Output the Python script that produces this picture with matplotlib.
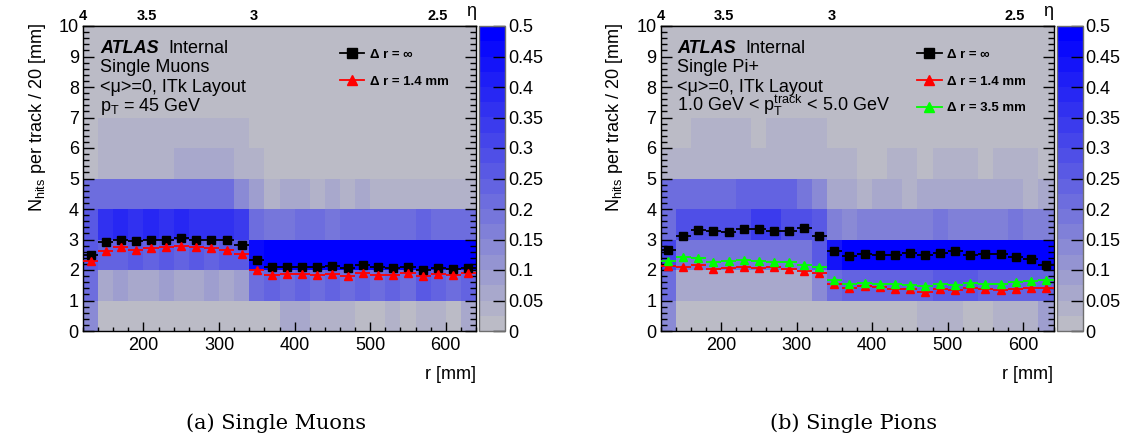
import numpy as np
import matplotlib
matplotlib.use("Agg")
import matplotlib.pyplot as plt
from matplotlib.colors import ListedColormap, BoundaryNorm
from matplotlib.lines import Line2D
from matplotlib.ticker import MultipleLocator, FixedLocator, FuncFormatter

plt.rcParams["font.family"] = ["Liberation Sans", "DejaVu Sans"]
plt.rcParams["mathtext.fontset"] = "custom"
plt.rcParams["mathtext.rm"] = "Liberation Sans"
plt.rcParams["mathtext.it"] = "Liberation Sans:italic"
plt.rcParams["mathtext.bf"] = "Liberation Sans:bold"

# ---------------- binning ----------------
r_edges = np.arange(120, 641, 20)          # 20 mm radial bins
hit_edges = np.arange(0, 11, 1)            # hits per track
r_centers = 0.5 * (r_edges[:-1] + r_edges[1:])

# ---------------- single muons ----------------
# fraction of tracks per (r, N_hits) cell, rows = N_hits 0-1, 1-2, ...
muon_map = [
    [0.13, 0.01, 0.01, 0.01, 0.01, 0.01, 0.01, 0.01, 0.01, 0.01, 0.01, 0.01, 0.01,
     0.05, 0.05, 0.03, 0.03, 0.03, 0.01, 0.01, 0.04, 0.01, 0.04, 0.04, 0.01, 0.05],
    [0.21, 0.07, 0.08, 0.07, 0.06, 0.08, 0.07, 0.07, 0.08, 0.07, 0.09, 0.22, 0.23,
     0.22, 0.23, 0.22, 0.23, 0.22, 0.23, 0.22, 0.23, 0.22, 0.27, 0.23, 0.22, 0.23],
    [0.26, 0.24, 0.23, 0.25, 0.24, 0.25, 0.24, 0.25, 0.24, 0.25, 0.26, 0.46, 0.50,
     0.50, 0.50, 0.50, 0.50, 0.50, 0.50, 0.50, 0.50, 0.50, 0.50, 0.50, 0.50, 0.50],
    [0.25, 0.37, 0.38, 0.37, 0.38, 0.37, 0.38, 0.37, 0.36, 0.37, 0.33, 0.22, 0.18,
     0.19, 0.20, 0.20, 0.19, 0.20, 0.21, 0.20, 0.20, 0.21, 0.24, 0.22, 0.20, 0.21],
    [0.22, 0.22, 0.22, 0.22, 0.22, 0.22, 0.22, 0.22, 0.22, 0.22, 0.14, 0.08, 0.03,
     0.06, 0.06, 0.03, 0.06, 0.04, 0.06, 0.03, 0.03, 0.03, 0.03, 0.03, 0.03, 0.03],
    [0.00, 0.03, 0.03, 0.03, 0.03, 0.03, 0.06, 0.06, 0.06, 0.06, 0.03, 0.03, 0.00,
     0.00, 0.00, 0.00, 0.00, 0.00, 0.00, 0.00, 0.00, 0.00, 0.00, 0.00, 0.00, 0.00],
    [0.00, 0.03, 0.03, 0.03, 0.03, 0.03, 0.03, 0.03, 0.03, 0.03, 0.03, 0.00, 0.00,
     0.00, 0.00, 0.00, 0.00, 0.00, 0.00, 0.00, 0.00, 0.00, 0.00, 0.00, 0.00, 0.00],
    [0.0] * 26,
    [0.0] * 26,
    [0.0] * 26,
]
muon_dr_inf = [2.49, 2.92, 2.98, 2.94, 2.98, 2.98, 3.05, 2.98, 2.98, 2.98, 2.81, 2.33, 2.09,
               2.09, 2.09, 2.09, 2.13, 2.07, 2.16, 2.09, 2.07, 2.09, 2.00, 2.07, 2.03, 2.07]
muon_dr_14 = [2.29, 2.63, 2.75, 2.67, 2.73, 2.75, 2.79, 2.74, 2.72, 2.67, 2.52, 2.00, 1.82,
              1.87, 1.87, 1.82, 1.87, 1.79, 1.90, 1.84, 1.84, 1.89, 1.79, 1.87, 1.84, 1.89]

# ---------------- single pions ----------------
pion_map = [
    [0.14, 0.01, 0.01, 0.01, 0.01, 0.01, 0.01, 0.01, 0.01, 0.01, 0.01, 0.01, 0.01,
     0.01, 0.01, 0.01, 0.01, 0.03, 0.03, 0.03, 0.01, 0.01, 0.04, 0.04, 0.04, 0.09],
    [0.22, 0.07, 0.06, 0.07, 0.07, 0.06, 0.07, 0.07, 0.06, 0.07, 0.13, 0.20, 0.24,
     0.24, 0.23, 0.24, 0.24, 0.23, 0.25, 0.25, 0.25, 0.24, 0.24, 0.24, 0.23, 0.24],
    [0.31, 0.19, 0.18, 0.19, 0.19, 0.18, 0.19, 0.19, 0.18, 0.19, 0.26, 0.44, 0.49,
     0.49, 0.49, 0.49, 0.49, 0.48, 0.48, 0.49, 0.49, 0.49, 0.49, 0.49, 0.49, 0.49],
    [0.22, 0.29, 0.29, 0.29, 0.29, 0.29, 0.33, 0.33, 0.30, 0.30, 0.26, 0.16, 0.15,
     0.16, 0.16, 0.17, 0.16, 0.16, 0.18, 0.17, 0.16, 0.17, 0.16, 0.18, 0.17, 0.16],
    [0.21, 0.21, 0.21, 0.21, 0.21, 0.24, 0.24, 0.24, 0.24, 0.18, 0.14, 0.05, 0.05,
     0.03, 0.06, 0.06, 0.03, 0.06, 0.06, 0.06, 0.06, 0.06, 0.06, 0.06, 0.03, 0.05],
    [0.03, 0.03, 0.03, 0.03, 0.03, 0.03, 0.03, 0.03, 0.03, 0.03, 0.03, 0.03, 0.03,
     0.00, 0.00, 0.03, 0.03, 0.00, 0.03, 0.03, 0.03, 0.00, 0.03, 0.03, 0.03, 0.00],
    [0.00, 0.00, 0.03, 0.03, 0.03, 0.03, 0.00, 0.03, 0.03, 0.03, 0.03, 0.00, 0.00,
     0.00, 0.00, 0.00, 0.00, 0.00, 0.00, 0.00, 0.00, 0.00, 0.00, 0.00, 0.00, 0.00],
    [0.0] * 26,
    [0.0] * 26,
    [0.0] * 26,
]
pion_dr_inf = [2.65, 3.12, 3.32, 3.28, 3.24, 3.35, 3.36, 3.28, 3.28, 3.38, 3.12, 2.63, 2.46,
               2.54, 2.50, 2.50, 2.56, 2.50, 2.56, 2.61, 2.50, 2.54, 2.54, 2.43, 2.36, 2.17]
pion_dr_14 = [2.13, 2.11, 2.15, 2.02, 2.07, 2.10, 2.07, 2.09, 2.03, 1.96, 1.91, 1.53, 1.42,
              1.48, 1.44, 1.37, 1.38, 1.29, 1.38, 1.33, 1.41, 1.38, 1.35, 1.37, 1.42, 1.42]
pion_dr_35 = [2.28, 2.41, 2.39, 2.26, 2.28, 2.34, 2.30, 2.26, 2.26, 2.17, 2.11, 1.66, 1.55,
              1.59, 1.55, 1.53, 1.52, 1.47, 1.54, 1.52, 1.58, 1.55, 1.53, 1.60, 1.63, 1.66]

colorbar_ticks = [0, 0.05, 0.1, 0.15, 0.2, 0.25, 0.3, 0.35, 0.4, 0.45, 0.5]
eta_major = [4, 3.5, 3, 2.5]
eta_minor = [3.9, 3.8, 3.7, 3.6, 3.4, 3.3, 3.2, 3.1, 2.9, 2.8, 2.7, 2.6]

# gray -> blue stepped palette, 20 levels
base = np.array([0.735, 0.735, 0.775])
top = np.array([0.0, 0.0, 1.0])
levels = np.linspace(0, 0.5, 21)
palette = ListedColormap([base + (top - base) * k / 19 for k in range(20)])
norm = BoundaryNorm(levels, palette.N, clip=True)

# radial position <-> pseudorapidity along the layer
ETA_A, ETA_B = 9.03, 1.0606


def r_to_eta(r):
    r = np.clip(np.asarray(r, dtype=float), 1e-3, None)
    return (ETA_A - np.log(r)) / ETA_B


def eta_to_r(eta):
    return np.exp(ETA_A - ETA_B * np.asarray(eta, dtype=float))


FIG_W, FIG_H = 1129, 441
fig = plt.figure(figsize=(FIG_W / 100, FIG_H / 100), dpi=100)

TICK_FS = 13
LEG_FS = 9.5


def panel(x0, hist, series, lines, caption):
    ax = fig.add_axes([x0 / FIG_W, 1 - 331 / FIG_H, 393 / FIG_W, 305 / FIG_H])
    cax = fig.add_axes([(x0 + 396) / FIG_W, 1 - 331 / FIG_H, 26 / FIG_W, 305 / FIG_H])

    mesh = ax.pcolormesh(r_edges, hit_edges, np.array(hist), cmap=palette, norm=norm,
                         shading="flat", zorder=1)

    handles = []
    for values, color, marker, ls, label in series:
        eb = ax.errorbar(r_centers, values, xerr=10, fmt=marker, color=color, ms=5.5,
                         mec=color, mfc=color, elinewidth=1.3, capsize=0, zorder=5)
        eb[2][0].set_linestyle(ls)
        handles.append(Line2D([], [], color=color, marker=marker, ms=6.5, lw=1.3,
                              label=label))

    ax.set_xlim(120, 640)
    ax.set_ylim(0, 10)
    ax.xaxis.set_major_locator(MultipleLocator(100))
    ax.xaxis.set_minor_locator(MultipleLocator(20))
    ax.yaxis.set_major_locator(MultipleLocator(1))
    ax.yaxis.set_minor_locator(MultipleLocator(0.2))
    ax.tick_params(which="both", direction="in", top=False, right=True,
                   labelsize=TICK_FS, width=1)
    ax.tick_params(axis="y", which="major", length=8, pad=3)
    ax.tick_params(axis="y", which="minor", length=4.5)
    ax.tick_params(axis="x", which="major", length=6.5, pad=4)
    ax.tick_params(axis="x", which="minor", length=3)
    for s in ax.spines.values():
        s.set_linewidth(1.0)

    ax.set_xlabel("r [mm]", fontsize=13, loc="right")
    ax.xaxis.set_label_coords(1.0, -0.115)
    ax.set_ylabel(r"N$_{\mathrm{hits}}$ per track / 20 [mm]", fontsize=13, loc="top")
    ax.yaxis.set_label_coords(-0.09, 1.01)

    sec = ax.secondary_xaxis("top", functions=(r_to_eta, eta_to_r))
    sec.xaxis.set_major_locator(FixedLocator(eta_major))
    sec.xaxis.set_minor_locator(FixedLocator(eta_minor))
    sec.xaxis.set_major_formatter(FuncFormatter(lambda v, p: f"{v:g}"))
    sec.tick_params(which="both", direction="in", labelsize=10.5, pad=2)
    sec.tick_params(which="major", length=6)
    sec.tick_params(which="minor", length=3)
    sec.spines["top"].set_linewidth(1.0)
    for t in sec.xaxis.get_ticklabels():
        t.set_fontweight("bold")
    ax.text(0.987, 1.046, "η", transform=ax.transAxes, fontsize=13,
            ha="center", va="center")

    ax.text(0.043, 0.910, "ATLAS", transform=ax.transAxes, fontsize=13,
            fontweight="bold", fontstyle="italic", va="baseline")
    ax.text(0.216, 0.910, "Internal", transform=ax.transAxes, fontsize=13,
            va="baseline")
    for y, s in zip([0.850, 0.785, 0.720], lines):
        ax.text(0.043, y, s, transform=ax.transAxes, fontsize=13, va="baseline")

    ax.legend(handles=handles, loc="upper left", bbox_to_anchor=(0.653, 0.926),
              frameon=False, borderpad=0, borderaxespad=0, handlelength=1.85,
              handletextpad=0.45, labelspacing=1.1,
              prop={"size": LEG_FS, "weight": "bold"})

    cb = fig.colorbar(mesh, cax=cax, ticks=colorbar_ticks,
                      format=FuncFormatter(lambda v, p: f"{v:g}"))
    cb.outline.set_edgecolor("#6e6e6e")
    cb.outline.set_linewidth(1.0)
    cb.ax.tick_params(direction="in", length=9, width=1, labelsize=TICK_FS, pad=2,
                      color="black")
    cb.ax.minorticks_off()

    fig.text((x0 + 193) / FIG_W, 1 - 423 / FIG_H, caption, fontsize=15,
             family="DejaVu Serif", ha="center", va="center")
    return ax


panel(83,
      muon_map,
      [(muon_dr_inf, "black", "s", "-", "Δ r = ∞"),
       (muon_dr_14, "red", "^", "--", "Δ r = 1.4 mm")],
      ["Single Muons", "<μ>=0, ITk Layout", r"p$_{\mathrm{T}}$ = 45 GeV"],
      "(a) Single Muons")

panel(660.5,
      pion_map,
      [(pion_dr_inf, "black", "s", "-", "Δ r = ∞"),
       (pion_dr_14, "red", "^", "--", "Δ r = 1.4 mm"),
       (pion_dr_35, "#00ff00", "^", "--", "Δ r = 3.5 mm")],
      ["Single Pi+", "<μ>=0, ITk Layout",
       r"1.0 GeV < p$_{\mathrm{T}}^{\mathrm{track}}$ < 5.0 GeV"],
      "(b) Single Pions")

fig.savefig("out.png", dpi=100)
